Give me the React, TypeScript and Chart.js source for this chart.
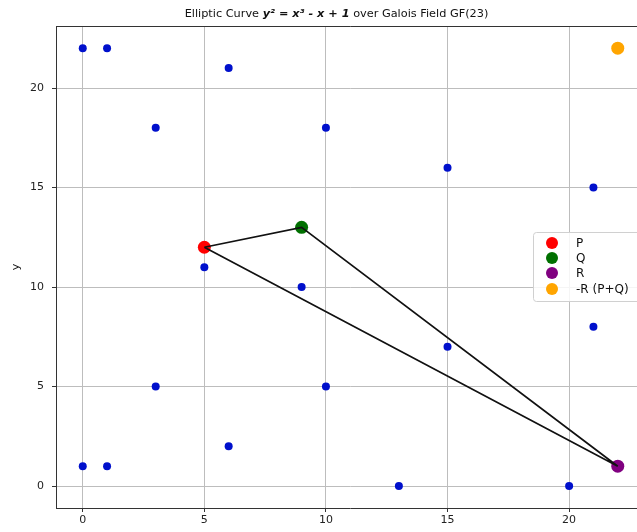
import React, { useEffect, useRef } from "react";
import { Chart, registerables } from "chart.js";

Chart.register(...registerables);

// Points on y^2 = x^3 - x + 1 over GF(23)
const curveX = [0, 0, 1, 1, 3, 3, 5, 5, 6, 6, 9, 9, 10, 10, 13, 15, 15, 20, 21, 21, 22, 22];
const curveY = [1, 22, 1, 22, 5, 18, 11, 12, 2, 21, 10, 13, 5, 18, 0, 7, 16, 0, 8, 15, 1, 22];

const pointP = { x: 5, y: 12 };
const pointQ = { x: 9, y: 13 };
const pointR = { x: 22, y: 1 };
const pointNegR = { x: 22, y: 22 };

const tickValues = [0, 5, 10, 15, 20];
const legendLabels = ["P", "Q", "R", "-R (P+Q)"];
const legendColors = ["#ff0000", "#007000", "#800080", "#ffa500"];

const FONT = "'DejaVu Sans', sans-serif";

const overlayPlugin = {
  id: "overlay",
  afterDraw(chart: any) {
    const ctx = chart.ctx;
    const a = chart.chartArea;
    ctx.save();
    // top spine
    ctx.strokeStyle = "#333";
    ctx.lineWidth = 1;
    ctx.beginPath();
    ctx.moveTo(a.left, Math.round(a.top) + 0.5);
    ctx.lineTo(a.right, Math.round(a.top) + 0.5);
    ctx.moveTo(Math.round(a.right) + 0.5, a.top);
    ctx.lineTo(Math.round(a.right) + 0.5, a.bottom);
    ctx.stroke();

    // title with mixed styles
    const parts = [
      { t: "Elliptic Curve ", f: `11.3px ${FONT}` },
      { t: "y² = x³ - x + 1", f: `italic bold 11.3px ${FONT}` },
      { t: " over Galois Field GF(23)", f: `11.3px ${FONT}` },
    ];
    let total = 0;
    for (const p of parts) {
      ctx.font = p.f;
      total += ctx.measureText(p.t).width;
    }
    let x = 336.5 - total / 2;
    ctx.fillStyle = "#111";
    ctx.textBaseline = "middle";
    ctx.textAlign = "left";
    for (const p of parts) {
      ctx.font = p.f;
      ctx.fillText(p.t, x, 14);
      x += ctx.measureText(p.t).width;
    }

    // y axis label
    ctx.save();
    ctx.translate(16, 267);
    ctx.rotate(-Math.PI / 2);
    ctx.font = `11px ${FONT}`;
    ctx.textAlign = "center";
    ctx.textBaseline = "middle";
    ctx.fillText("y", 0, 0);
    ctx.restore();

    // legend
    const lx = 533, ly = 232, lw = 130, lh = 69;
    ctx.fillStyle = "rgba(255,255,255,0.85)";
    ctx.strokeStyle = "#d0d0d0";
    ctx.lineWidth = 1;
    ctx.beginPath();
    ctx.roundRect(lx + 0.5, ly + 0.5, lw, lh, 3);
    ctx.fill();
    ctx.stroke();
    const rows = [243, 258, 273, 289];
    ctx.font = `12px ${FONT}`;
    ctx.textAlign = "left";
    ctx.textBaseline = "middle";
    legendLabels.forEach((lab, i) => {
      ctx.fillStyle = legendColors[i];
      ctx.beginPath();
      ctx.arc(552, rows[i], 6, 0, Math.PI * 2);
      ctx.fill();
      ctx.fillStyle = "#111";
      ctx.fillText(lab, 576, rows[i] + 0.5);
    });
    ctx.restore();
  },
};

export default function App() {
  const ref = useRef<HTMLCanvasElement>(null);
  useEffect(() => {
    if (!ref.current) return;
    const curve = curveX.map((x, i) => ({ x, y: curveY[i] }));
    const fixTicks = (s: any) => {
      s.ticks = tickValues.map((v) => ({ value: v }));
    };
    const chart = new Chart(ref.current, {
      type: "scatter",
      data: {
        datasets: [
          {
            type: "line" as any,
            data: [pointP, pointQ, pointR, pointP],
            borderColor: "#111",
            borderWidth: 1.7,
            pointRadius: 0,
            showLine: true,
            fill: false,
            order: 0,
          } as any,
          {
            data: [pointP],
            backgroundColor: legendColors[0],
            borderWidth: 0,
            pointRadius: 6.5,
            order: 1,
          },
          {
            data: [pointQ],
            backgroundColor: legendColors[1],
            borderWidth: 0,
            pointRadius: 6.5,
            order: 1,
          },
          {
            data: [pointR],
            backgroundColor: legendColors[2],
            borderWidth: 0,
            pointRadius: 6.5,
            order: 1,
          },
          {
            data: [pointNegR],
            backgroundColor: legendColors[3],
            borderWidth: 0,
            pointRadius: 6.5,
            order: 1,
          },
          {
            data: curve,
            backgroundColor: "#0010cc",
            borderWidth: 0,
            pointRadius: 4,
            order: 2,
          },
        ],
      },
      options: {
        responsive: false,
        animation: false,
        events: [],
        layout: { padding: { top: 26.3, right: 15.5, bottom: 0, left: 0 } },
        plugins: {
          legend: { display: false },
          title: { display: false },
          tooltip: { enabled: false },
        },
        scales: {
          x: {
            type: "linear",
            min: -1.1,
            max: 23.1,
            afterBuildTicks: fixTicks,
            afterFit: (s: any) => {
              s.height = 24;
            },
            grid: { color: "#bdbdbd", lineWidth: 1, tickColor: "#333", tickLength: 4 },
            border: { display: true, color: "#333", width: 1 },
            ticks: { font: { family: FONT, size: 11 }, color: "#222", padding: 2 },
          },
          y: {
            type: "linear",
            min: -1.1,
            max: 23.1,
            afterBuildTicks: fixTicks,
            afterFit: (s: any) => {
              s.width = 56;
            },
            grid: { color: "#bdbdbd", lineWidth: 1, tickColor: "#333", tickLength: 4 },
            border: { display: true, color: "#333", width: 1 },
            ticks: { font: { family: FONT, size: 11 }, color: "#222", padding: 8 },
          },
        },
      },
      plugins: [overlayPlugin],
    });
    return () => chart.destroy();
  }, []);
  return (
    <div
      style={{
        position: "fixed",
        left: 0,
        top: 0,
        width: 637,
        height: 532,
        overflow: "hidden",
        background: "#fff",
      }}
    >
      <canvas ref={ref} width={660} height={532} style={{ display: "block" }} />
    </div>
  );
}
